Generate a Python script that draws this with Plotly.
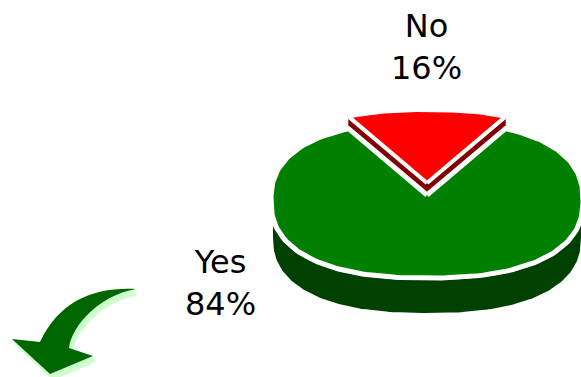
import numpy as np
import plotly.graph_objects as go

# Survey answer shares
labels = ["Yes", "No"]
values = [84, 16]
top_colors = ["#008000", "#ff0000"]
wall_colors = ["#004000", "#800000"]

W, H = 581, 377

# Pie geometry (pixel space, y grows downward)
CX, CY = 427, 200
RX, RY = 156, 78
APEX_DY = -5           # perspective: the apex sits a little above the rim centre
ROUND_N = 2.4          # super-ellipse exponent of the tilted disc
DEPTH = 37
LIFT = [0, 12]         # how far each slice is pulled upward


def rim(phi_deg, lift=0.0, drop=0.0):
    phi = np.radians(np.asarray(phi_deg, dtype=float))
    c, s = np.cos(phi), np.sin(phi)
    r = (np.abs(c) ** ROUND_N + np.abs(s) ** ROUND_N) ** (-1.0 / ROUND_N)
    return CX + r * c * RX, CY - r * s * RY - lift + drop


def apex(lift=0.0, drop=0.0):
    return CX, CY + APEX_DY - lift + drop


total = float(sum(values))
start = 90.0 + values[1] / total * 180.0
spans = []
a = start
for v in values:
    b = a + v / total * 360.0
    spans.append((a, b))
    a = b

fig = go.Figure()


def add_poly(xs, ys, fill, line_w=0, line_c="white"):
    fig.add_trace(go.Scatter(
        x=list(xs) + [xs[0]], y=list(ys) + [ys[0]], mode="lines",
        fill="toself", fillcolor=fill,
        line=dict(color=line_c if line_w else fill, width=line_w if line_w else 0.5),
        hoverinfo="skip", showlegend=False))


# cut faces of the lifted slice
a0, a1 = spans[1]
lift = LIFT[1]
ax_, ay_ = apex(lift)
for ang in (a0, a1):
    ex, ey = rim(ang, lift)
    add_poly([ax_, ex, ex, ax_], [ay_, ey, ey + DEPTH, ay_ + DEPTH], wall_colors[1])

# front wall of the big slice
a0, a1 = spans[0]
lo, hi = max(a0, 180.0), min(a1, 360.0)
phi = np.linspace(lo, hi, 160)
tx, ty = rim(phi, LIFT[0])
bx, by = rim(phi[::-1], LIFT[0], DEPTH)
add_poly(list(tx) + list(bx), list(ty) + list(by), wall_colors[0], 4)

# top faces
outline_w = [5, 4]
for i, (a0, a1) in enumerate(spans):
    phi = np.linspace(a0, a1, 200)
    px, py = rim(phi, LIFT[i])
    ax_, ay_ = apex(LIFT[i])
    add_poly([ax_] + list(px), [ay_] + list(py), top_colors[i], outline_w[i])

# slice labels
label_pos = [(220, 241), (426, 5)]
for lab, v, (lx, ly) in zip(labels, values, label_pos):
    fig.add_annotation(
        x=lx, y=ly, xref="x", yref="y", xanchor="center", yanchor="top",
        text=f"{lab}<br>{round(v / total * 100)}%", showarrow=False,
        font=dict(family="DejaVu Sans", size=32, color="#000000"))


# curved pointer arrow with a pale extrusion
def arrow_path(dx=0.0, dy=0.0):
    def p(x, y):
        return f"{x + dx:g},{y + dy:g}"
    return (f"M {p(136, 289)} C {p(95, 287)} {p(60, 300)} {p(40, 342)} "
            f"L {p(12, 339)} L {p(50, 374)} L {p(93, 356)} L {p(69, 348)} "
            f"C {p(72, 325)} {p(100, 295)} {p(136, 289)} Z")


for k in range(1, 7):
    fig.add_shape(type="path", path=arrow_path(0.5 * k, 1.0 * k),
                  xref="x", yref="y", fillcolor="#ccffcc", line=dict(width=0))
fig.add_shape(type="path", path=arrow_path(), xref="x", yref="y",
              fillcolor="#006600", line=dict(width=0))

fig.update_layout(
    width=W, height=H, margin=dict(l=0, r=0, t=0, b=0),
    paper_bgcolor="white", plot_bgcolor="white",
    xaxis=dict(range=[0, W], visible=False, fixedrange=True),
    yaxis=dict(range=[H, 0], visible=False, fixedrange=True),
    showlegend=False,
)

fig.write_html("out.html")
